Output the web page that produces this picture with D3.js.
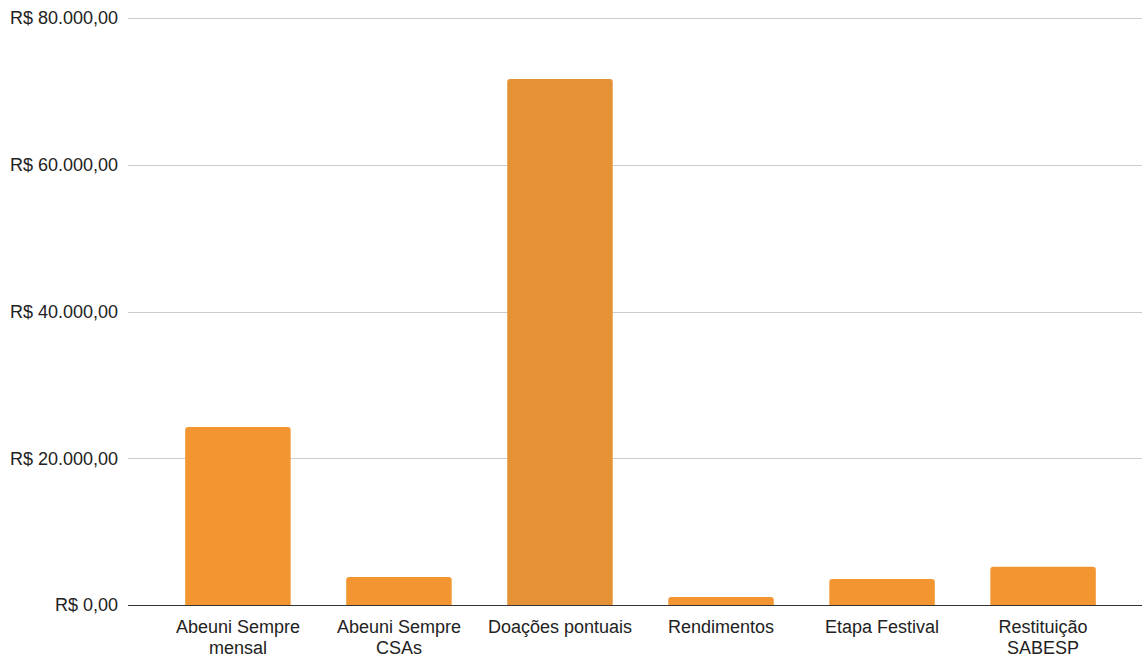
<!DOCTYPE html>
<html><head><meta charset="utf-8">
<script src="https://cdn.jsdelivr.net/npm/d3@7"></script>
<style>body{margin:0;background:#fff}text{font-family:"Liberation Sans",Arial,sans-serif;fill:#222}</style>
</head><body><svg id="c" width="1142" height="659"></svg>
<script>
const categories = [["Abeuni Sempre","mensal"],["Abeuni Sempre","CSAs"],["Doações pontuais"],["Rendimentos"],["Etapa Festival"],["Restituição","SABESP"]];
const values = [24250, 3800, 71700, 1100, 3550, 5200];
const barColors = ["#f39531","#f39531","#e59237","#f39531","#f39531","#f39531"];
const yTicks = [0, 20000, 40000, 60000, 80000];
const yTickLabels = ["R$ 0,00","R$ 20.000,00","R$ 40.000,00","R$ 60.000,00","R$ 80.000,00"];

const svg = d3.select("#c");
const y = d3.scaleLinear().domain([0, 80000]).range([605, 18]);
const x = d3.scaleBand().domain(d3.range(categories.length)).range([157, 1124]).paddingInner(0.345).paddingOuter(0.175);

svg.append("g").selectAll("line").data(yTicks.filter(d=>d>0)).join("line")
  .attr("x1",128).attr("x2",1142).attr("y1",d=>Math.round(y(d))+0.5).attr("y2",d=>Math.round(y(d))+0.5)
  .attr("stroke","#cccccc").attr("stroke-width",1);

svg.append("g").selectAll("text").data(yTicks).join("text")
  .attr("x",118).attr("y",d=>y(d)).attr("dy","0.35em").attr("text-anchor","end")
  .attr("font-size",18).text((d,i)=>yTickLabels[i]);

const r = 3;
svg.append("g").selectAll("path").data(values).join("path")
  .attr("fill",(d,i)=>barColors[i])
  .attr("d",(d,i)=>{
    const x0 = x(i), w = x.bandwidth(), y0 = y(d), yb = y(0);
    return `M${x0},${yb}V${y0+r}Q${x0},${y0} ${x0+r},${y0}H${x0+w-r}Q${x0+w},${y0} ${x0+w},${y0+r}V${yb}Z`;
  });

svg.append("line").attr("x1",128).attr("x2",1142).attr("y1",605.5).attr("y2",605.5).attr("stroke","#333").attr("stroke-width",1.2);

const xl = svg.append("g").selectAll("text").data(categories).join("text")
  .attr("x",(d,i)=>x(i)+x.bandwidth()/2).attr("y",633).attr("text-anchor","middle").attr("font-size",18);
xl.selectAll("tspan").data(d=>d).join("tspan")
  .attr("x",function(){return this.parentNode.getAttribute("x");})
  .attr("dy",(d,i)=>i===0?0:21).text(d=>d);
</script></body></html>
